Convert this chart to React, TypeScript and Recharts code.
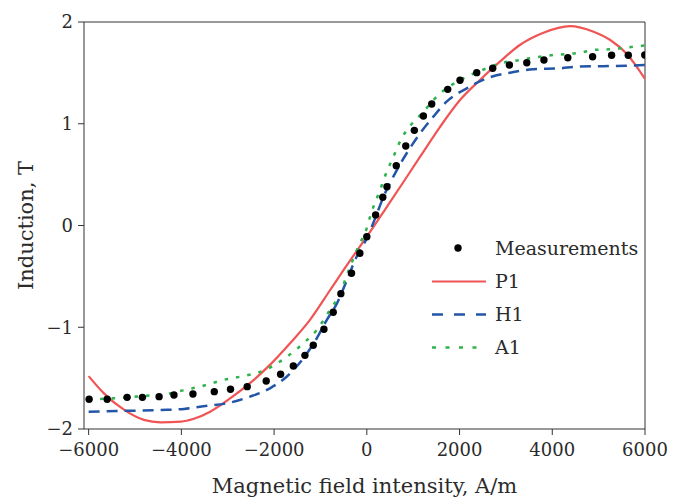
import React from 'react';
import {
  ComposedChart,
  Line,
  Scatter,
  XAxis,
  YAxis,
  ReferenceLine,
} from 'recharts';

// x-axis ticks (A/m) and y-axis ticks (T)
const hTicks = [-6000, -4000, -2000, 0, 2000, 4000, 6000];
const bTicks = [-2, -1, 0, 1, 2];

// measured B(H)
const measH = [-5990, -5600, -5170, -4840, -4480, -4160, -3750, -3290, -2940, -2580, -2170, -1860, -1585, -1335, -1155, -925, -725, -560, -330, -150, 0, 190, 345, 435, 635, 840, 1025, 1220, 1400, 1745, 2010, 2370, 2715, 3075, 3450, 3820, 4335, 4870, 5280, 5640, 5995];
const measB = [-1.708, -1.708, -1.689, -1.689, -1.682, -1.666, -1.656, -1.633, -1.61, -1.584, -1.528, -1.462, -1.381, -1.276, -1.177, -1.02, -0.853, -0.67, -0.47, -0.273, -0.11, 0.103, 0.277, 0.381, 0.588, 0.781, 0.935, 1.076, 1.194, 1.338, 1.427, 1.502, 1.545, 1.577, 1.6, 1.627, 1.649, 1.659, 1.673, 1.673, 1.676];

// P1 model
const p1H = [-6000, -5670, -5240, -4810, -4450, -4010, -3730, -3380, -2950, -2520, -2090, -1660, -1230, -790, -400, 0, 400, 1150, 1580, 2010, 2440, 2870, 3300, 3810, 4380, 4890, 5250, 5600, 6000];
const p1B = [-1.48, -1.65, -1.81, -1.91, -1.934, -1.928, -1.9, -1.83, -1.7, -1.55, -1.37, -1.16, -0.93, -0.634, -0.37, -0.11, 0.16, 0.676, 0.97, 1.233, 1.43, 1.61, 1.774, 1.895, 1.96, 1.905, 1.823, 1.69, 1.44];

// H1 model
const h1H = [-6000, -5380, -4950, -4450, -3940, -3600, -2950, -2520, -2090, -1730, -1370, -1080, -865, -650, -400, -220, 0, 180, 360, 610, 860, 1150, 1435, 1720, 2155, 2590, 3090, 3590, 4170, 4530, 5600, 6000];
const h1B = [-1.83, -1.823, -1.82, -1.813, -1.803, -1.781, -1.741, -1.682, -1.6, -1.486, -1.305, -1.109, -0.929, -0.77, -0.503, -0.307, -0.126, 0.071, 0.283, 0.513, 0.71, 0.906, 1.07, 1.217, 1.348, 1.447, 1.502, 1.535, 1.545, 1.561, 1.57, 1.577];

// A1 model
const a1H = [-6000, -5450, -4840, -4230, -3940, -3600, -3095, -2555, -2230, -1800, -1370, -1080, -795, -630, -360, -150, -40, 105, 285, 430, 575, 680, 1255, 1545, 1830, 2155, 2585, 2945, 3305, 3735, 4025, 4345, 4600, 4885, 5245, 5750, 6000];
const a1B = [-1.708, -1.699, -1.676, -1.649, -1.617, -1.584, -1.518, -1.469, -1.427, -1.315, -1.158, -1.027, -0.83, -0.716, -0.405, -0.175, -0.077, 0.136, 0.349, 0.529, 0.676, 0.791, 1.135, 1.283, 1.381, 1.462, 1.545, 1.6, 1.627, 1.659, 1.676, 1.686, 1.698, 1.725, 1.732, 1.757, 1.77];

const toPts = (hs: number[], bs: number[]) => hs.map((h, i) => ({ h, b: bs[i] }));

const FONT = '"DejaVu Serif", serif';
const INK = '#2b2b2b';
const RED = '#f05454';
const BLUE = '#2356a8';
const GREEN = '#2db34b';

const legendRows = [
  { name: 'Measurements', kind: 'dot' },
  { name: 'P1', kind: 'solid', color: RED },
  { name: 'H1', kind: 'dash', color: BLUE },
  { name: 'A1', kind: 'dot-line', color: GREEN },
];

// drawn as an overlay so it does not shrink the plot area
function LegendBox() {
  return (
    <div
      style={{
        position: 'absolute',
        left: 432,
        top: 232,
        fontFamily: FONT,
        fontSize: 19,
        color: INK,
        lineHeight: 1,
      }}
    >
      {legendRows.map((r) => (
        <div key={r.name} style={{ display: 'flex', alignItems: 'center', height: 33 }}>
          <svg width={63} height={33} style={{ display: 'block' }}>
            {r.kind === 'dot' && <circle cx={26} cy={16} r={3.7} fill="#000" />}
            {r.kind === 'solid' && <line x1={0} x2={54} y1={16.5} y2={16.5} stroke={r.color} strokeWidth={2.2} />}
            {r.kind === 'dash' && (
              <line x1={0} x2={54} y1={16.5} y2={16.5} stroke={r.color} strokeWidth={2.5} strokeDasharray="11 11" />
            )}
            {r.kind === 'dot-line' && (
              <line x1={0} x2={54} y1={16.5} y2={16.5} stroke={r.color} strokeWidth={2.5} strokeDasharray="4 9.5" />
            )}
          </svg>
          <span>{r.name}</span>
        </div>
      ))}
    </div>
  );
}

function XTitle(props: any) {
  const { viewBox } = props;
  return (
    <text
      x={viewBox.x + viewBox.width / 2}
      y={viewBox.y + viewBox.height - 6}
      textAnchor="middle"
      fontFamily={FONT}
      fontSize={21}
      fill={INK}
    >
      Magnetic field intensity, A/m
    </text>
  );
}

function YTitle(props: any) {
  const { viewBox } = props;
  const cx = viewBox.x + 26;
  const cy = viewBox.y + viewBox.height / 2;
  return (
    <text
      x={cx}
      y={cy}
      transform={`rotate(-90 ${cx} ${cy})`}
      textAnchor="middle"
      dominantBaseline="central"
      fontFamily={FONT}
      fontSize={21}
      fill={INK}
    >
      Induction, T
    </text>
  );
}

const fmt = (v: number) => (v < 0 ? `\u2212${Math.abs(v)}` : `${v}`);

export default function App() {
  const tickStyle = { fontSize: 18, fill: INK, fontFamily: FONT };
  return (
    <div style={{ position: 'absolute', left: 0, top: 0, width: 682, height: 499, background: '#fff' }}>
      <ComposedChart width={682} height={499} margin={{ top: 22, right: 37, bottom: 0, left: 0 }}>
        <XAxis
          dataKey="h"
          type="number"
          domain={[-6100, 6000]}
          ticks={hTicks}
          allowDataOverflow
          height={70}
          tick={tickStyle}
          tickSize={6}
          tickMargin={8}
          stroke="#333"
          tickFormatter={fmt}
          label={<XTitle />}
        />
        <YAxis
          dataKey="b"
          type="number"
          domain={[-2, 2]}
          ticks={bTicks}
          allowDataOverflow
          width={84}
          tick={tickStyle}
          tickSize={6}
          tickMargin={5}
          stroke="#333"
          tickFormatter={fmt}
          label={<YTitle />}
        />
        <ReferenceLine y={2} stroke="#333" strokeWidth={1} />
        <ReferenceLine x={6000} stroke="#333" strokeWidth={1} />
        <Scatter
          name="Measurements"
          data={toPts(measH, measB)}
          dataKey="b"
          isAnimationActive={false}
          shape={(p: any) => <circle cx={p.cx} cy={p.cy} r={3.7} fill="#000" />}
        />
        <Line
          name="P1"
          data={toPts(p1H, p1B)}
          dataKey="b"
          type="monotone"
          stroke={RED}
          strokeWidth={2.2}
          dot={false}
          activeDot={false}
          isAnimationActive={false}
        />
        <Line
          name="H1"
          data={toPts(h1H, h1B)}
          dataKey="b"
          type="monotone"
          stroke={BLUE}
          strokeWidth={2.5}
          strokeDasharray="11 7"
          dot={false}
          activeDot={false}
          isAnimationActive={false}
        />
        <Line
          name="A1"
          data={toPts(a1H, a1B)}
          dataKey="b"
          type="monotone"
          stroke={GREEN}
          strokeWidth={2.5}
          strokeDasharray="3.5 8"
          dot={false}
          activeDot={false}
          isAnimationActive={false}
        />
      </ComposedChart>
      <LegendBox />
    </div>
  );
}
